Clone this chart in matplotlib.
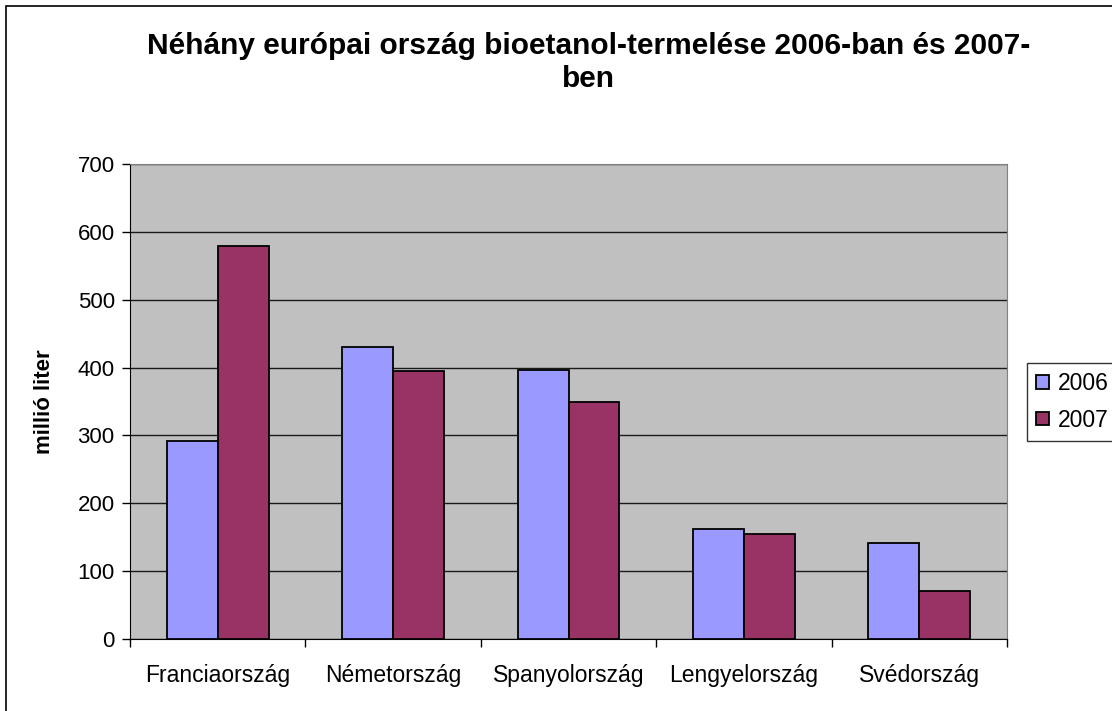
import matplotlib.pyplot as plt
from matplotlib.patches import Rectangle
import numpy as np

plt.rcParams["font.family"] = ["Liberation Sans", "DejaVu Sans"]

orszagok = ["Franciaország", "Németország", "Spanyolország", "Lengyelország", "Svédország"]
ev_2006 = [292, 430, 397, 162, 141]
ev_2007 = [579, 395, 349, 154, 70]
evek = ["2006", "2007"]

fig = plt.figure(figsize=(11.12, 7.11), dpi=100)
ax = fig.add_axes([0.1169, 0.1013, 0.7887, 0.668])
ax.set_facecolor("#C0C0C0")

x = np.arange(len(orszagok))
w = 0.29
ax.bar(x - w / 2, ev_2006, w, color="#9999FF", edgecolor="black", linewidth=1.3, label=evek[0], zorder=3)
ax.bar(x + w / 2, ev_2007, w, color="#993366", edgecolor="black", linewidth=1.3, label=evek[1], zorder=3)

ax.set_xlim(-0.5, len(orszagok) - 0.5)
ax.set_ylim(0, 700)
ax.set_yticks(range(0, 701, 100))
ax.yaxis.grid(True, color="#1a1a1a", linewidth=1, zorder=1)
ax.set_axisbelow(True)

ax.set_xticks(x)
ax.set_xticklabels(orszagok, fontsize=16.5)
ax.set_xticks(np.arange(-0.5, len(orszagok)), minor=True)
ax.tick_params(axis="x", which="major", length=0, pad=18)
ax.tick_params(axis="x", which="minor", length=6, width=1)
ax.tick_params(axis="y", labelsize=16, length=6, width=1, pad=5)

for s in ["top", "right"]:
    ax.spines[s].set_color("#808080")
for s in ["left", "bottom"]:
    ax.spines[s].set_color("black")

ax.set_ylabel("millió liter", fontsize=16, fontweight="bold", labelpad=16)

fig.text(0.529, 0.912, "Néhány európai ország bioetanol-termelése 2006-ban és 2007-\nben",
         ha="center", va="center", fontsize=21.5, fontweight="bold", linespacing=1.22)

fig.legend(loc="upper left", bbox_to_anchor=(0.9235, 0.49), fontsize=16.5, frameon=True,
           fancybox=False, edgecolor="black", handlelength=0.55, handleheight=0.55,
           handletextpad=0.4, borderpad=0.4, labelspacing=0.6, borderaxespad=0)

# keret: a kép jobb és alsó széle le van vágva, csak a bal és felső vonal látszik
fig.patches.append(Rectangle((6 / 1112, -0.5), 2, 1.5 - 6 / 711, transform=fig.transFigure,
                             fill=False, edgecolor="black", linewidth=1.2))

plt.savefig("out.png")
plt.close()
